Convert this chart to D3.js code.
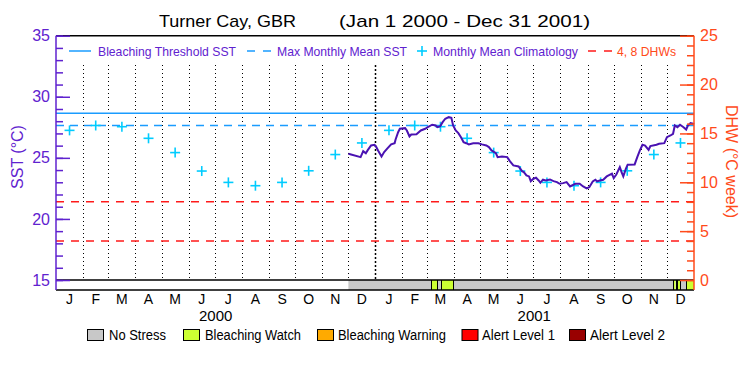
<!DOCTYPE html>
<html>
<head>
<meta charset="utf-8">
<script src="https://cdn.jsdelivr.net/npm/d3@7"></script>
<style>
  body { margin: 0; background: #fff; }
  svg { display: block; }
  text { font-family: "Liberation Sans", Arial, sans-serif; }
</style>
</head>
<body>
<svg id="chart" width="750" height="375"></svg>
<script>
// ---------------- DATA ----------------
const titleLeft = "Turner Cay, GBR";
const titleRight = "(Jan 1 2000 - Dec 31 2001)";
const monthLabels = ["J","F","M","A","M","J","J","A","S","O","N","D"];
const yearLabels = ["2000","2001"];
const sstTicks = [15,20,25,30,35];
const dhwTicks = [0,5,10,15,20,25];
// Monthly mean climatology (Jan..Dec), repeated each year
const climatology = [27.25, 27.65, 27.55, 26.6, 25.43, 23.92, 22.99, 22.72, 22.99, 23.94, 25.27, 26.22];
const maxMonthlyMean = 27.65;
const bleachingThreshold = 28.65;
const dhwLevels = [4, 8];
// Satellite SST, days counted from sstStart
const sstStart = "2000-12-01";
const sstDays = [0,14,17,20,22,26,30,32,34,38,41,45,49,53,54,57,59,65,67,70,72,78,83,88,91,96,100,102,105,108,111,115,118,120,123,126,129,132,135,138,143,149,153,158,161,164,169,171,176,182,185,189,195,199,201,204,207,209,212,215,218,220,223,226,231,235,239,242,246,250,254,260,265,269,273,276,280,283,285,288,292,296,302,304,307,311,313,315,318,320,328,331,334,337,340,344,346,353,356,362,365,369,372,374,377,380,384,387,389,392,395,396];
const sstValues = [25.34,25.06,25.55,25.38,25.61,26.01,26.07,25.88,25.61,25.11,25.47,25.79,26.10,26.20,26.48,27.10,27.38,27.43,27.24,26.75,26.91,26.94,27.24,27.38,27.51,27.71,27.65,27.51,27.57,27.92,28.20,28.33,28.28,27.65,27.24,27.02,26.69,26.28,26.20,26.10,26.20,26.20,26.10,26.01,25.88,25.61,25.38,25.06,25.11,25.06,24.73,24.38,24.30,23.91,23.83,23.56,23.48,23.09,23.29,23.37,23.15,22.96,23.21,23.15,23.23,23.09,23.01,22.88,22.93,23.01,22.66,22.88,22.88,22.66,22.50,22.60,23.07,23.21,23.07,23.15,23.21,23.48,23.70,23.34,23.64,24.24,23.83,23.48,24.11,24.44,24.46,25.06,25.61,26.07,26.01,25.66,25.96,26.07,26.15,26.20,26.69,26.83,26.97,27.65,27.51,27.71,27.51,27.32,27.65,27.84,27.79,27.73];
// Stress level periods (days from sstStart), level index into stressNames
const stressDays = [0,95,102,106,120,372,375,377,380,387,396];
const stressLevels = [0,1,0,1,0,1,0,1,0,1];
const stressNames = ["No Stress","Bleaching Watch","Bleaching Warning","Alert Level 1","Alert Level 2"];
const stressColors = ["#c8c8c8","#ccff33","#ffaa00","#ff0000","#990000"];
const topLegend = ["Bleaching Threshold SST","Max Monthly Mean SST","Monthly Mean Climatology","4, 8 DHWs"];

// ---------------- STYLE ----------------
const purple = "#5f22cf";
const lineColor = "#4a12b2";
const orange = "#ff4a1a";
const blue = "#1a9cff";
const cyan = "#00ccff";

const svg = d3.select("#chart");
const L = 56, R = 694, T = 35.7, B = 280, barB = 290;
const day0 = Date.UTC(2000,11,1);
const dayDate = d => new Date(day0 + d*86400000);

const x = d3.scaleUtc().domain([new Date(Date.UTC(2000,0,1)), new Date(Date.UTC(2002,0,1))]).range([L, R]);
const yS = d3.scaleLinear().domain([15,35]).range([B, T]);
const yD = d3.scaleLinear().domain([0,25]).range([B, T]);

// Title
svg.append("text").attr("x",159).attr("y",27).attr("font-size",17).attr("fill","#000")
  .attr("textLength",137).attr("lengthAdjust","spacingAndGlyphs").text(titleLeft);
svg.append("text").attr("x",339).attr("y",27).attr("font-size",17).attr("fill","#000")
  .attr("textLength",251).attr("lengthAdjust","spacingAndGlyphs").text(titleRight);

// Month dotted lines
const monthStarts = d3.utcMonth.range(new Date(Date.UTC(2000,1,1)), new Date(Date.UTC(2002,0,1)));
svg.append("g").selectAll("line").data(monthStarts).join("line")
  .attr("x1", d => Math.round(x(d))+0.5).attr("x2", d => Math.round(x(d))+0.5)
  .attr("y1", 65).attr("y2", B)
  .attr("stroke","#000")
  .attr("stroke-width", d => d.getUTCMonth()===0 ? 1.5 : 1)
  .attr("stroke-dasharray", d => d.getUTCMonth()===0 ? "2,2" : "1,3");

// Threshold and MMM lines
svg.append("line").attr("x1",L).attr("x2",R).attr("y1",yS(bleachingThreshold)).attr("y2",yS(bleachingThreshold))
  .attr("stroke",blue).attr("stroke-width",1.5);
svg.append("line").attr("x1",L).attr("x2",R).attr("y1",yS(maxMonthlyMean)).attr("y2",yS(maxMonthlyMean))
  .attr("stroke",blue).attr("stroke-width",1.5).attr("stroke-dasharray","8,6");
// DHW levels
svg.append("g").selectAll("line").data(dhwLevels).join("line")
  .attr("x1",L).attr("x2",R).attr("y1",d=>yD(d)).attr("y2",d=>yD(d))
  .attr("stroke","#ff1a1a").attr("stroke-width",1.5).attr("stroke-dasharray","8,7");

// Climatology markers
const climPts = [];
for (let yr=2000; yr<=2001; yr++) for (let m=0;m<12;m++){
  const s = Date.UTC(yr,m,1), e = Date.UTC(yr,m+1,1);
  climPts.push({date:new Date((s+e)/2), v:climatology[m]});
}
const plus = svg.append("g").attr("stroke",cyan).attr("stroke-width",1.6);
climPts.forEach(p => {
  const cx = x(p.date), cy = yS(p.v);
  plus.append("line").attr("x1",cx-5).attr("x2",cx+5).attr("y1",cy).attr("y2",cy);
  plus.append("line").attr("x1",cx).attr("x2",cx).attr("y1",cy-5).attr("y2",cy+5);
});

// SST line
const sstData = sstDays.map((d,i)=>({date:dayDate(d), v:sstValues[i]}));
svg.append("path").datum(sstData)
  .attr("d", d3.line().x(d=>x(d.date)).y(d=>yS(d.v)).curve(d3.curveLinear))
  .attr("fill","none").attr("stroke",lineColor).attr("stroke-width",2);

// Stress bar
const segs = stressLevels.map((lv,i)=>({s:dayDate(stressDays[i]), e:dayDate(stressDays[i+1]), lv}));
svg.append("g").selectAll("rect").data(segs).join("rect")
  .attr("x", d=>x(d.s)).attr("width", d=>x(d.e)-x(d.s))
  .attr("y", B).attr("height", barB-B)
  .attr("fill", d=>stressColors[d.lv]);
svg.append("g").selectAll("line").data(segs.slice(1)).join("line")
  .attr("x1", d=>Math.round(x(d.s))+0.5).attr("x2", d=>Math.round(x(d.s))+0.5)
  .attr("y1", B).attr("y2", barB).attr("stroke","#000").attr("stroke-width",1);

// Frame lines
svg.append("line").attr("x1",L).attr("x2",R).attr("y1",T).attr("y2",T).attr("stroke","#000").attr("stroke-width",1.5);
svg.append("line").attr("x1",L).attr("x2",R).attr("y1",B).attr("y2",B).attr("stroke","#000").attr("stroke-width",1.5);
svg.append("line").attr("x1",L).attr("x2",R).attr("y1",barB).attr("y2",barB).attr("stroke","#000").attr("stroke-width",1.5);

// Left axis
const gl = svg.append("g").attr("transform",`translate(${L},0)`);
gl.call(d3.axisLeft(yS).tickValues(d3.range(15,36,1)).tickSize(-7).tickFormat(""));
gl.call(g=>g.select(".domain").remove());
const gl2 = svg.append("g").attr("transform",`translate(${L},0)`);
gl2.call(d3.axisLeft(yS).tickValues(sstTicks).tickSize(-14).tickPadding(6).tickFormat(d3.format("d")));
gl2.select(".domain").remove();
[gl,gl2].forEach(g=>{ g.selectAll("line").attr("stroke",purple).attr("stroke-width",1.5); });
gl2.selectAll("text").attr("fill",purple).attr("font-size",16).attr("font-family","Liberation Sans, Arial, sans-serif");
svg.append("line").attr("x1",L).attr("x2",L).attr("y1",T).attr("y2",barB).attr("stroke",purple).attr("stroke-width",1.5);

// Right axis
const gr = svg.append("g").attr("transform",`translate(${R},0)`);
gr.call(d3.axisRight(yD).tickValues(d3.range(0,26,1)).tickSize(-7).tickFormat(""));
gr.select(".domain").remove();
const gr2 = svg.append("g").attr("transform",`translate(${R},0)`);
gr2.call(d3.axisRight(yD).tickValues(dhwTicks).tickSize(-14).tickPadding(6).tickFormat(d3.format("d")));
gr2.select(".domain").remove();
[gr,gr2].forEach(g=>{ g.selectAll("line").attr("stroke",orange).attr("stroke-width",1.5); });
gr2.selectAll("text").attr("fill",orange).attr("font-size",16).attr("font-family","Liberation Sans, Arial, sans-serif");
svg.append("line").attr("x1",R).attr("x2",R).attr("y1",T).attr("y2",barB).attr("stroke",orange).attr("stroke-width",1.5);

// Axis titles
svg.append("text").attr("transform","translate(23,157) rotate(-90)").attr("text-anchor","middle")
  .attr("font-size",16).attr("fill",purple).text("SST (°C)");
svg.append("text").attr("transform","translate(726,161.5) rotate(90)").attr("text-anchor","middle")
  .attr("font-size",16).attr("fill",orange).text("DHW (°C week)");

// Month labels
const allMonths = d3.utcMonth.range(new Date(Date.UTC(2000,0,1)), new Date(Date.UTC(2002,0,1)));
svg.append("g").selectAll("text").data(allMonths).join("text")
  .attr("x", d => x(new Date((d.getTime()+d3.utcMonth.offset(d,1).getTime())/2)))
  .attr("y", 304).attr("text-anchor","middle").attr("font-size",14).attr("fill","#000")
  .text(d => monthLabels[d.getUTCMonth()]);
svg.append("g").selectAll("text").data(yearLabels).join("text")
  .attr("x", d => x(new Date(Date.UTC(+d,6,2))))
  .attr("y", 321).attr("text-anchor","middle").attr("font-size",15).attr("fill","#000")
  .text(d=>d);

// Top legend
const tl = svg.append("g");
tl.append("line").attr("x1",69).attr("x2",91).attr("y1",51).attr("y2",51).attr("stroke",blue).attr("stroke-width",1.5);
tl.append("text").attr("x",98).attr("y",56).attr("font-size",13).attr("fill",purple)
  .attr("textLength",138).attr("lengthAdjust","spacingAndGlyphs").text(topLegend[0]);
tl.append("line").attr("x1",247).attr("x2",271).attr("y1",51).attr("y2",51).attr("stroke",blue).attr("stroke-width",1.5).attr("stroke-dasharray","8,8");
tl.append("text").attr("x",277).attr("y",56).attr("font-size",13).attr("fill",purple)
  .attr("textLength",130).attr("lengthAdjust","spacingAndGlyphs").text(topLegend[1]);
tl.append("line").attr("x1",417).attr("x2",427).attr("y1",51).attr("y2",51).attr("stroke",cyan).attr("stroke-width",1.6);
tl.append("line").attr("x1",422).attr("x2",422).attr("y1",46).attr("y2",56).attr("stroke",cyan).attr("stroke-width",1.6);
tl.append("text").attr("x",433).attr("y",56).attr("font-size",13).attr("fill",purple)
  .attr("textLength",145).attr("lengthAdjust","spacingAndGlyphs").text(topLegend[2]);
tl.append("line").attr("x1",588).attr("x2",612).attr("y1",51).attr("y2",51).attr("stroke","#ff1a1a").attr("stroke-width",1.5).attr("stroke-dasharray","8,8");
tl.append("text").attr("x",617).attr("y",56).attr("font-size",13).attr("fill",orange)
  .attr("textLength",59).attr("lengthAdjust","spacingAndGlyphs").text(topLegend[3]);

// Bottom legend
const boxX = [87, 183, 317, 461.5, 569];
const txtX = [109, 205, 338, 482, 590];
const txtW = [57, 96, 108, 73, 75];
const bl = svg.append("g");
stressNames.forEach((n,i)=>{
  bl.append("rect").attr("x",boxX[i]+0.5).attr("y",329.5).attr("width",16).attr("height",11)
    .attr("fill",stressColors[i]).attr("stroke","#000").attr("stroke-width",1);
  bl.append("text").attr("x",txtX[i]).attr("y",340).attr("font-size",14).attr("fill","#000")
    .attr("textLength",txtW[i]).attr("lengthAdjust","spacingAndGlyphs").text(n);
});
</script>
</body>
</html>
